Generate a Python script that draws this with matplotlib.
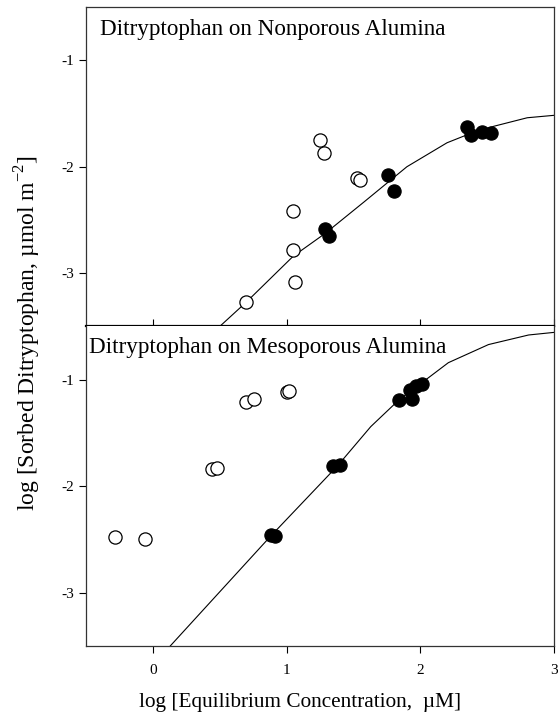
import matplotlib.pyplot as plt

plt.rcParams["font.family"] = ["Liberation Serif", "DejaVu Serif"]
plt.rcParams["mathtext.fontset"] = "custom"
plt.rcParams["mathtext.rm"] = "Liberation Serif"

# Nonporous alumina (top panel)
np_open_x = [0.70, 1.05, 1.05, 1.06, 1.25, 1.28, 1.53, 1.55]
np_open_y = [-3.27, -2.42, -2.78, -3.08, -1.75, -1.875, -2.11, -2.12]
np_fill_x = [1.29, 1.32, 1.76, 1.80, 2.35, 2.38, 2.46, 2.53]
np_fill_y = [-2.58, -2.65, -2.08, -2.225, -1.625, -1.70, -1.67, -1.68]
np_fit_x = [0.50, 0.70, 1.05, 1.29, 1.58, 1.90, 2.20, 2.37, 2.55, 2.80, 3.02]
np_fit_y = [-3.50, -3.27, -2.84, -2.625, -2.33, -2.00, -1.775, -1.69, -1.62, -1.54, -1.515]

# Mesoporous alumina (bottom panel)
mp_open_x = [-0.28, -0.06, 0.44, 0.48, 0.70, 0.76, 1.00, 1.015]
mp_open_y = [-2.475, -2.495, -1.835, -1.83, -1.205, -1.18, -1.115, -1.11]
mp_fill_x = [0.88, 0.915, 1.35, 1.40, 1.84, 1.925, 1.94, 1.97, 2.01]
mp_fill_y = [-2.46, -2.47, -1.81, -1.805, -1.195, -1.095, -1.18, -1.06, -1.04]
mp_fit_x = [0.13, 0.88, 1.38, 1.63, 1.84, 2.01, 2.21, 2.51, 2.81, 3.02]
mp_fit_y = [-3.50, -2.47, -1.81, -1.44, -1.19, -1.03, -0.84, -0.67, -0.58, -0.553]

y_ticks = [-1, -2, -3]
x_ticks = [0, 1, 2, 3]

fig = plt.figure(figsize=(5.58, 7.15), dpi=100)
ax1 = fig.add_axes([0.1541, 0.5434, 0.8387, 0.4468])
ax2 = fig.add_axes([0.1541, 0.0965, 0.8387, 0.4469])

ms = 9.5
for ax, ox, oy, fx, fy, cx, cy in [
    (ax1, np_open_x, np_open_y, np_fill_x, np_fill_y, np_fit_x, np_fit_y),
    (ax2, mp_open_x, mp_open_y, mp_fill_x, mp_fill_y, mp_fit_x, mp_fit_y),
]:
    ax.plot(cx, cy, color="black", lw=0.8, zorder=2)
    ax.plot(ox, oy, "o", ms=ms, mfc="white", mec="black", mew=0.9, zorder=3)
    ax.plot(fx, fy, "o", ms=ms, mfc="black", mec="black", mew=0.9, zorder=3)
    ax.set_xlim(-0.5, 3)
    ax.set_ylim(-3.5, -0.5)
    ax.set_yticks(y_ticks)
    ax.set_yticklabels([str(t) for t in y_ticks])
    ax.set_xticks(x_ticks)
    ax.tick_params(axis="y", direction="out", length=5, width=0.8, labelsize=11)
    for s in ax.spines.values():
        s.set_linewidth(0.9)
        s.set_color("#333333")

ax1.tick_params(axis="x", direction="in", length=5, width=0.8, labelbottom=False)
ax1.spines["bottom"].set_linewidth(1.6)
ax1.spines["bottom"].set_color("black")
ax2.spines["top"].set_visible(False)
ax2.tick_params(axis="x", direction="out", length=5, width=0.8, labelsize=11, pad=8)

ax1.text(0.03, 0.93, "Ditryptophan on Nonporous Alumina", transform=ax1.transAxes,
         fontsize=16.7, va="center", ha="left")
ax2.text(0.006, 0.935, "Ditryptophan on Mesoporous Alumina", transform=ax2.transAxes,
         fontsize=16.7, va="center", ha="left")

fig.text(0.537, 0.018, "log [Equilibrium Concentration,  \u00b5M]", ha="center", va="center",
         fontsize=15.3)
fig.text(0.050, 0.534, "log [Sorbed Ditryptophan, \u00b5mol m$^{-2}$]", ha="center", va="center",
         rotation=90, fontsize=17)

fig.savefig("out.png", dpi=100)
